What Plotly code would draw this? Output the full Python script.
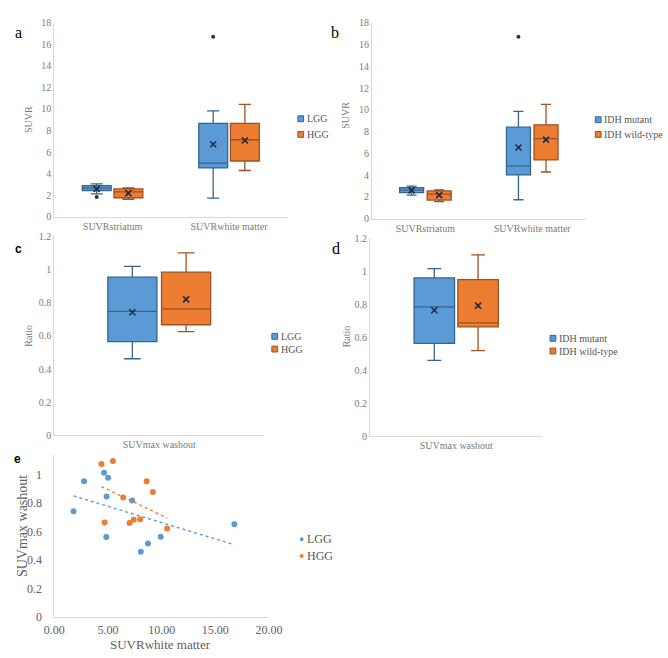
import numpy as np
import plotly.graph_objects as go

W, H = 668, 658
def fx(p):
    return p / W
def fy(p):
    return 1 - p / H

BLUE, ORANGE = "#5B9BD5", "#ED7D31"
BLUE_LINE, ORANGE_LINE = "#35658F", "#9C5221"
GRAY_TXT = "#7a7a7a"
AXLINE = "#d9d9d9"
SERIF = "Liberation Serif"

# ---------------- data ----------------
cats_ab = ["SUVRstriatum", "SUVRwhite matter"]
cats_cd = ["SUVmax washout"]

# panel a (LGG / HGG)
a_lgg_q1 = [2.43, 4.53]; a_lgg_med = [2.65, 4.98]; a_lgg_q3 = [2.89, 8.66]
a_lgg_lo = [2.13, 1.73]; a_lgg_hi = [3.04, 9.82]; a_lgg_mean = [2.58, 6.72]
a_lgg_out_cat = [0, 1]; a_lgg_out = [1.82, 16.7]
a_hgg_q1 = [1.76, 5.17]; a_hgg_med = [2.30, 7.14]; a_hgg_q3 = [2.58, 8.66]
a_hgg_lo = [1.61, 4.29]; a_hgg_hi = [2.67, 10.43]; a_hgg_mean = [2.19, 7.08]

# panel b (IDH mutant / IDH wild-type)
b_mut_q1 = [2.40, 4.02]; b_mut_med = [2.62, 4.86]; b_mut_q3 = [2.85, 8.40]
b_mut_lo = [2.16, 1.74]; b_mut_hi = [3.00, 9.85]; b_mut_mean = [2.60, 6.54]
b_mut_out_cat = [1]; b_mut_out = [16.7]
b_wt_q1 = [1.71, 5.40]; b_wt_med = [2.25, 7.35]; b_wt_q3 = [2.55, 8.62]
b_wt_lo = [1.56, 4.29]; b_wt_hi = [2.64, 10.50]; b_wt_mean = [2.16, 7.26]

# panel c (LGG / HGG) washout ratio
c_lgg = dict(q1=0.565, med=0.748, q3=0.954, lo=0.462, hi=1.019, mean=0.742)
c_hgg = dict(q1=0.667, med=0.763, q3=0.984, lo=0.626, hi=1.100, mean=0.820)

# panel d (IDH mutant / IDH wild-type) washout ratio
d_mut = dict(q1=0.563, med=0.784, q3=0.960, lo=0.460, hi=1.016, mean=0.764)
d_wt = dict(q1=0.663, med=0.688, q3=0.950, lo=0.520, hi=1.100, mean=0.792)

# panel e scatter: SUVR white matter vs SUVmax washout
e_lgg_x = [1.79, 2.78, 4.63, 5.01, 4.87, 4.84, 7.25, 8.06, 8.72, 9.91, 16.78]
e_lgg_y = [0.744, 0.954, 1.014, 0.979, 0.847, 0.561, 0.819, 0.458, 0.515, 0.563, 0.652]
e_hgg_x = [4.39, 5.46, 4.69, 6.42, 7.01, 7.40, 8.00, 8.60, 9.19, 10.51]
e_hgg_y = [1.076, 1.098, 0.664, 0.840, 0.661, 0.684, 0.686, 0.954, 0.879, 0.622]

fig = go.Figure()


def add_boxes(ax, cats_idx, q1, med, q3, lo, hi, mean, name, fill, line, offset,
              width, wwidth):
    xa = "x" if ax == 1 else f"x{ax}"
    ya = "y" if ax == 1 else f"y{ax}"
    pos = [c + offset for c in cats_idx]
    fig.add_trace(go.Box(
        x=pos, q1=q1, median=med, q3=q3, lowerfence=lo, upperfence=hi,
        name=name, fillcolor=fill, line=dict(color=line, width=1.3),
        width=width, whiskerwidth=wwidth, boxpoints=False,
        xaxis=xa, yaxis=ya, showlegend=False, hoverinfo="skip"))
    fig.add_trace(go.Scatter(
        x=pos, y=mean, mode="markers",
        marker=dict(symbol="x-thin-open", size=6, color="#1f2a44",
                    line=dict(width=1.6, color="#1f2a44")),
        xaxis=xa, yaxis=ya, showlegend=False, hoverinfo="skip"))


def add_outliers(ax, cats_idx, vals, offset):
    xa = "x" if ax == 1 else f"x{ax}"
    ya = "y" if ax == 1 else f"y{ax}"
    fig.add_trace(go.Scatter(
        x=[c + offset for c in cats_idx], y=vals, mode="markers",
        marker=dict(size=4, color="#333333"), xaxis=xa, yaxis=ya,
        showlegend=False, hoverinfo="skip"))


idx_ab = list(range(len(cats_ab)))
# panel a
oa, wa = 0.136, 0.248
add_boxes(1, idx_ab, a_lgg_q1, a_lgg_med, a_lgg_q3, a_lgg_lo, a_lgg_hi, a_lgg_mean,
          "LGG", BLUE, BLUE_LINE, -oa, wa, 0.42)
add_boxes(1, idx_ab, a_hgg_q1, a_hgg_med, a_hgg_q3, a_hgg_lo, a_hgg_hi, a_hgg_mean,
          "HGG", ORANGE, ORANGE_LINE, oa, wa, 0.42)
add_outliers(1, a_lgg_out_cat, a_lgg_out, -oa)
# panel b
ob, wb = 0.129, 0.225
add_boxes(2, idx_ab, b_mut_q1, b_mut_med, b_mut_q3, b_mut_lo, b_mut_hi, b_mut_mean,
          "IDH mutant", BLUE, BLUE_LINE, -ob, wb, 0.42)
add_boxes(2, idx_ab, b_wt_q1, b_wt_med, b_wt_q3, b_wt_lo, b_wt_hi, b_wt_mean,
          "IDH wild-type", ORANGE, ORANGE_LINE, ob, wb, 0.42)
add_outliers(2, b_mut_out_cat, b_mut_out, -ob)
# panel c
oc, wc = 0.128, 0.234
for d, nm, fc, lc, sgn in [(c_lgg, "LGG", BLUE, BLUE_LINE, -1), (c_hgg, "HGG", ORANGE, ORANGE_LINE, 1)]:
    add_boxes(3, [0], [d["q1"]], [d["med"]], [d["q3"]], [d["lo"]], [d["hi"]], [d["mean"]],
              nm, fc, lc, sgn * oc, wc, 0.34)
# panel d
od, wd = 0.127, 0.235
for d, nm, fc, lc, sgn in [(d_mut, "IDH mutant", BLUE, BLUE_LINE, -1), (d_wt, "IDH wild-type", ORANGE, ORANGE_LINE, 1)]:
    add_boxes(4, [0], [d["q1"]], [d["med"]], [d["q3"]], [d["lo"]], [d["hi"]], [d["mean"]],
              nm, fc, lc, sgn * od, wd, 0.34)

# panel e
for xs, ys, nm, col in [(e_lgg_x, e_lgg_y, "LGG", BLUE), (e_hgg_x, e_hgg_y, "HGG", ORANGE)]:
    fig.add_trace(go.Scatter(x=xs, y=ys, mode="markers", name=nm,
                             marker=dict(size=6, color=col), xaxis="x5", yaxis="y5",
                             showlegend=False, hoverinfo="skip"))
    k, b0 = np.polyfit(xs, ys, 1)
    xl = np.array([min(xs), max(xs)])
    fig.add_trace(go.Scatter(x=xl, y=k * xl + b0, mode="lines",
                             line=dict(color=col, width=1.4, dash="dot"),
                             xaxis="x5", yaxis="y5", showlegend=False, hoverinfo="skip"))

tickfont = dict(family=SERIF, size=10, color=GRAY_TXT)
tickfont_e = dict(family=SERIF, size=12, color="#606060")


def xa_cfg(x0, x1, rng, tickvals=None, ticktext=None, font=tickfont, anchor="y"):
    return dict(domain=[fx(x0), fx(x1)], range=rng, anchor=anchor,
                showgrid=False, zeroline=False, showline=True, linecolor=AXLINE,
                linewidth=1, ticks="", tickvals=tickvals, ticktext=ticktext,
                tickfont=font, fixedrange=True)


def ya_cfg(y0, y1, rng, dtick, font=tickfont, anchor="x", tickvals=None, ticktext=None):
    return dict(domain=[fy(y1), fy(y0)], range=rng, anchor=anchor, dtick=dtick,
                showgrid=False, zeroline=False, showline=True, linecolor=AXLINE,
                linewidth=1, ticks="", tickfont=font, tickvals=tickvals,
                ticktext=ticktext, fixedrange=True)


ratio_ticks = [0, 0.2, 0.4, 0.6, 0.8, 1, 1.2]
ratio_text = ["0", "0.2", "0.4", "0.6", "0.8", "1", "1.2"]
layout = dict(
    width=W, height=H, margin=dict(l=0, r=0, t=0, b=0),
    paper_bgcolor="white", plot_bgcolor="white", showlegend=False,
    boxmode="overlay",
    xaxis=xa_cfg(45, 287, [-0.5, 1.5], idx_ab, cats_ab, anchor="y"),
    yaxis=ya_cfg(17, 215, [0, 18], 2, anchor="x"),
    xaxis2=xa_cfg(375, 597, [-0.5, 1.5], idx_ab, cats_ab, anchor="y2"),
    yaxis2=ya_cfg(17, 217, [0, 18], 2, anchor="x2"),
    xaxis3=xa_cfg(45, 263, [-0.5, 0.5], [0], cats_cd, anchor="y3"),
    yaxis3=ya_cfg(235, 438, [0, 1.2], 0.2, anchor="x3", tickvals=ratio_ticks, ticktext=ratio_text),
    xaxis4=xa_cfg(373, 552, [-0.5, 0.5], [0], cats_cd, anchor="y4"),
    yaxis4=ya_cfg(237, 439, [0, 1.2], 0.2, anchor="x4", tickvals=ratio_ticks, ticktext=ratio_text),
    xaxis5=dict(domain=[fx(45), fx(268)], range=[0, 20], anchor="y5", showgrid=False,
                zeroline=False, showline=True, linecolor=AXLINE, ticks="",
                tickvals=[0, 5, 10, 15, 20], ticktext=["0.00", "5.00", "10.00", "15.00", "20.00"],
                tickfont=tickfont_e, fixedrange=True, ticklabelstandoff=2),
    yaxis5=dict(domain=[fy(623), fy(458)], range=[0, 1.14], anchor="x5", showgrid=False,
                zeroline=False, showline=True, linecolor=AXLINE, ticks="",
                tickvals=[0, 0.2, 0.4, 0.6, 0.8, 1], ticktext=["0", "0.2", "0.4", "0.6", "0.8", "1"],
                tickfont=tickfont_e, fixedrange=True, ticklabelstandoff=9),
)
fig.update_layout(**layout)

# ---- manual legends (icon shapes + text) ----
shapes = []
ann = []
legends = [
    (298, [115, 131], ["LGG", "HGG"], 10),
    (607, [116, 131], ["IDH mutant", "IDH wild-type"], 10),
    (271, [337, 350], ["LGG", "HGG"], 10),
    (560, [339, 352], ["IDH mutant", "IDH wild-type"], 10),
]
for x0, ys, names, fs in legends:
    for yc, nm, fc, lc in zip(ys, names, [BLUE, ORANGE], [BLUE_LINE, ORANGE_LINE]):
        shapes.append(dict(type="rect", xref="paper", yref="paper",
                           x0=fx(x0), x1=fx(x0 + 6), y0=fy(yc + 3), y1=fy(yc - 3),
                           fillcolor=fc, line=dict(color=lc, width=1)))
        ann.append(dict(text=nm, x=fx(x0 + 7), y=fy(yc), xref="paper", yref="paper",
                        showarrow=False, xanchor="left", yanchor="middle",
                        font=dict(family=SERIF, size=fs, color="#555555")))
for yc, nm, col in zip([544, 561], ["LGG", "HGG"], [BLUE, ORANGE]):
    shapes.append(dict(type="circle", xref="paper", yref="paper",
                       x0=fx(300), x1=fx(304), y0=fy(yc + 2), y1=fy(yc - 2),
                       fillcolor=col, line=dict(width=0)))
    ann.append(dict(text=nm, x=fx(305), y=fy(yc), xref="paper", yref="paper",
                    showarrow=False, xanchor="left", yanchor="middle",
                    font=dict(family=SERIF, size=12, color="#555555")))

for txt, x, y, fam, sz, bold in [("a", 8, 27, SERIF, 16, False), ("b", 337, 27, SERIF, 16, False),
                                 ("c", 8, 248, "Liberation Sans", 12, True),
                                 ("d", 338, 247, SERIF, 16, False),
                                 ("e", 7, 462, "Liberation Sans", 12, True)]:
    ann.append(dict(text=f"<b>{txt}</b>" if bold else txt, x=fx(x), y=fy(y), xref="paper",
                    yref="paper", showarrow=False, font=dict(family=fam, size=sz, color="black"),
                    xanchor="center", yanchor="middle"))
for txt, x, y, sz in [("SUVR", 18, 116, 10), ("SUVR", 348, 111, 10),
                      ("Ratio", 18, 336, 10), ("Ratio", 348, 337, 10),
                      ("SUVmax washout", 12, 531, 14)]:
    ann.append(dict(text=txt, x=fx(x), y=fy(y), xref="paper", yref="paper", showarrow=False,
                    textangle=-90, font=dict(family=SERIF, size=sz, color=GRAY_TXT if sz < 12 else "#606060"),
                    xanchor="center", yanchor="middle"))
ann.append(dict(text="SUVRwhite matter", x=fx(155), y=fy(651), xref="paper", yref="paper",
                showarrow=False, font=dict(family=SERIF, size=13, color="#606060"),
                xanchor="center", yanchor="middle"))
fig.update_layout(annotations=ann, shapes=shapes)

fig.write_html("out.html")
